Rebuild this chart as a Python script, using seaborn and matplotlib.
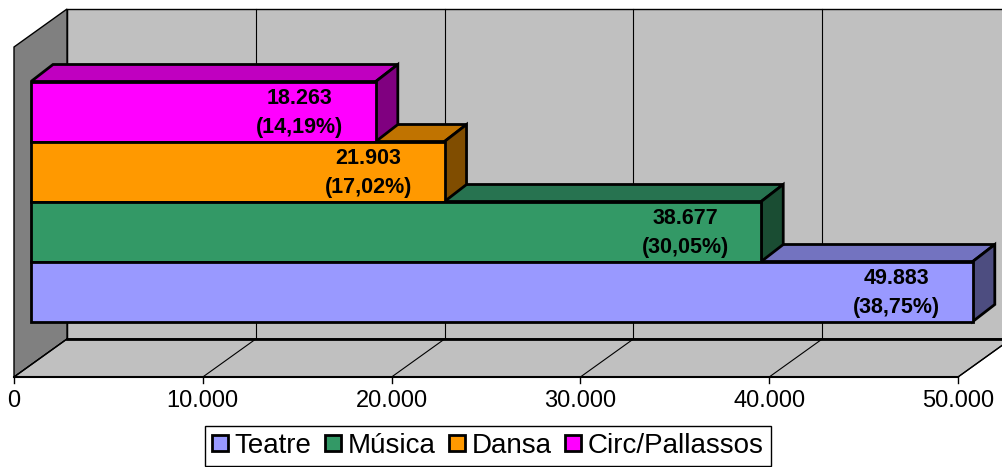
import numpy as np
import matplotlib
matplotlib.use("Agg")
import matplotlib.pyplot as plt
from matplotlib.patches import Polygon, Patch
import seaborn as sns

# --- dades ---
categories = ["Teatre", "Música", "Dansa", "Circ/Pallassos"]
valors = [49883, 38677, 21903, 18263]
percentatges = ["38,75%", "30,05%", "17,02%", "14,19%"]
ticks = [0, 10000, 20000, 30000, 40000, 50000]

# colors: cara frontal, cara superior, cara lateral
colors_front = ["#9999FF", "#339966", "#FF9900", "#FF00FF"]
colors_top = ["#7373C0", "#277350", "#C07300", "#C000C0"]
colors_side = ["#4D4D80", "#1A4D33", "#804D00", "#800080"]

plt.rcParams["font.family"] = ["Liberation Sans", "DejaVu Sans"]

W_PX, H_PX = 1003, 467
fig = plt.figure(figsize=(W_PX / 100, H_PX / 100), dpi=100)
ax = fig.add_axes([0, 0, 1, 1])

# escala: unitats de dades per pixel
KX = 50000 / 944
KY = 1 / 60
X0_PX, Y0_PX = 31, 111.5

# desplacaments de profunditat (en pixels -> dades)
BX, BY = 22 * KX, -17 * KY      # gruix de la barra
FX, FY = -17 * KX, 12 * KY      # pla frontal respecte la cara de la barra
WX, WY = 53 * KX, -38 * KY      # profunditat total de les parets

ordre = categories[::-1]
vals_ordre = valors[::-1]
pct_ordre = percentatges[::-1]
front_ordre = colors_front[::-1]

sns.barplot(x=vals_ordre, y=ordre, hue=ordre, palette=front_ordre, order=ordre,
            hue_order=ordre, orient="h", width=1.0, saturation=1,
            edgecolor="black", linewidth=2, legend=False, ax=ax, zorder=5)

# parets
y_top = -1.075
y_bot = 4.425
x_l, x_r = FX, 50000 + FX
gris = "#C0C0C0"
ax.add_patch(Polygon([(x_l + WX, y_top + WY), (x_r + WX, y_top + WY),
                      (x_r + WX, y_bot + WY), (x_l + WX, y_bot + WY)],
                     closed=True, facecolor=gris, edgecolor="black", lw=1, zorder=0))
ax.add_patch(Polygon([(x_l, y_top), (x_l + WX, y_top + WY),
                      (x_l + WX, y_bot + WY), (x_l, y_bot)],
                     closed=True, facecolor="#808080", edgecolor="black", lw=1, zorder=0.5))
ax.add_patch(Polygon([(x_l, y_bot), (x_r, y_bot), (x_r + WX, y_bot + WY),
                      (x_l + WX, y_bot + WY)],
                     closed=True, facecolor=gris, edgecolor="black", lw=1, zorder=0.5))

for t in ticks:
    ax.plot([t + FX + WX, t + FX + WX], [y_top + WY, y_bot + WY], color="black", lw=0.8, zorder=0.2)
    ax.plot([t + FX, t + FX + WX], [y_bot, y_bot + WY], color="black", lw=0.8, zorder=0.6)
    ax.plot([t + FX, t + FX], [y_bot, y_bot + 6 * KY], color="black", lw=1, zorder=0.6)
    ax.text(t + FX, (401 - Y0_PX) * KY, f"{t:,}".replace(",", "."), ha="center",
            va="center", fontsize=17)
ax.plot([x_l + WX, x_r + WX], [y_bot + WY, y_bot + WY], color="black", lw=2, zorder=0.7)
ax.plot([x_l, x_r], [y_bot, y_bot], color="black", lw=1.5, zorder=0.7)

# cares superior i lateral de les barres
for p, v in enumerate(vals_ordre):
    i = categories.index(ordre[p])
    z = 2 + (len(ordre) - p) * 0.1
    y0 = p - 0.5
    y1 = p + 0.5
    ax.add_patch(Polygon([(0, y0), (v, y0), (v + BX, y0 + BY), (BX, y0 + BY)],
                         closed=True, facecolor=colors_top[i], edgecolor="black",
                         lw=2, zorder=z))
    ax.add_patch(Polygon([(v, y0), (v + BX, y0 + BY), (v + BX, y1 + BY), (v, y1)],
                         closed=True, facecolor=colors_side[i], edgecolor="black",
                         lw=2, zorder=z))
    xt = v - 76 * KX
    ax.text(xt, p - 0.225, f"{v:,}".replace(",", "."), ha="center", va="center",
            fontsize=15.5, fontweight="bold", zorder=6)
    ax.text(xt, p + 0.275, f"({pct_ordre[p]})", ha="center", va="center",
            fontsize=15.5, fontweight="bold", zorder=6)

ax.set_xlim(-X0_PX * KX, (W_PX - X0_PX) * KX)
ax.set_ylim((H_PX - Y0_PX) * KY, -Y0_PX * KY)
ax.axis("off")

handles = [Patch(facecolor=c, edgecolor="black", linewidth=2) for c in colors_front]
leg = fig.legend(handles, categories, loc="upper center",
                 bbox_to_anchor=(488 / W_PX, 1 - 426 / H_PX), ncol=4, fontsize=20,
                 handlelength=0.55, handleheight=0.55, handletextpad=0.25,
                 columnspacing=0.5, borderpad=0.25, borderaxespad=0, fancybox=False,
                 edgecolor="black", framealpha=1)
leg.get_frame().set_linewidth(1)

fig.savefig("out.png", dpi=100)
